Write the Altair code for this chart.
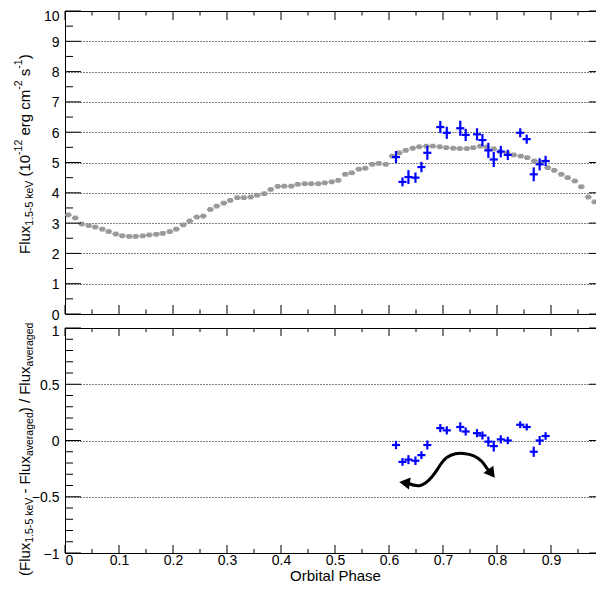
import altair as alt
import pandas as pd

# ---------------- data ----------------
gray_phase = [0.006, 0.019, 0.031, 0.044, 0.056, 0.069, 0.081, 0.094, 0.106, 0.119,
              0.131, 0.144, 0.156, 0.169, 0.181, 0.194, 0.206, 0.219, 0.231, 0.244,
              0.256, 0.269, 0.281, 0.294, 0.306, 0.319, 0.331, 0.344, 0.356, 0.369,
              0.381, 0.394, 0.406, 0.419, 0.431, 0.444, 0.456, 0.469, 0.481, 0.494,
              0.506, 0.519, 0.531, 0.544, 0.556, 0.569, 0.581, 0.594, 0.606, 0.619,
              0.631, 0.644, 0.656, 0.669, 0.681, 0.694, 0.706, 0.719, 0.731, 0.744,
              0.756, 0.769, 0.781, 0.794, 0.806, 0.819, 0.831, 0.844, 0.856, 0.869,
              0.881, 0.894, 0.906, 0.919, 0.931, 0.944, 0.956, 0.969, 0.981, 0.994]
gray_flux = [3.27, 3.17, 2.97, 2.92, 2.87, 2.80, 2.72, 2.64, 2.58, 2.56,
             2.56, 2.58, 2.61, 2.63, 2.66, 2.72, 2.80, 2.94, 3.07, 3.20,
             3.23, 3.45, 3.56, 3.66, 3.75, 3.84, 3.84, 3.86, 3.92, 3.97,
             4.11, 4.21, 4.22, 4.22, 4.28, 4.30, 4.30, 4.30, 4.33, 4.36,
             4.41, 4.61, 4.66, 4.78, 4.81, 4.94, 4.97, 4.94, 5.21, 5.32,
             5.40, 5.47, 5.52, 5.54, 5.54, 5.52, 5.49, 5.47, 5.46, 5.46,
             5.49, 5.54, 5.51, 5.45, 5.36, 5.30, 5.25, 5.21, 5.16, 5.05,
             4.99, 4.83, 4.74, 4.61, 4.50, 4.39, 4.20, 3.86, 3.70, 3.55]
gray_halfwidth = [0.00625] * 80

blue_phase = [0.613, 0.625, 0.636, 0.649, 0.660, 0.671, 0.695, 0.707, 0.732, 0.742,
              0.763, 0.773, 0.784, 0.794, 0.807, 0.820, 0.843, 0.855, 0.868, 0.879, 0.890]
blue_phase_err = [0.0075] * 21
blue_flux = [5.18, 4.36, 4.52, 4.50, 4.85, 5.32, 6.17, 5.98, 6.13, 5.91,
             5.93, 5.74, 5.40, 5.10, 5.36, 5.25, 5.98, 5.77, 4.61, 4.94, 5.05]
blue_flux_err = [0.20, 0.15, 0.23, 0.17, 0.17, 0.23, 0.20, 0.20, 0.25, 0.20,
                 0.20, 0.20, 0.25, 0.25, 0.19, 0.17, 0.15, 0.15, 0.23, 0.20, 0.17]
blue_rel = [-0.04, -0.19, -0.17, -0.18, -0.13, -0.04, 0.11, 0.09, 0.12, 0.08,
            0.065, 0.045, -0.01, -0.05, 0.01, 0.00, 0.14, 0.12, -0.10, 0.00, 0.04]
blue_rel_err = [0.037, 0.035, 0.040, 0.038, 0.035, 0.040, 0.036, 0.036, 0.042, 0.036,
                0.036, 0.036, 0.045, 0.048, 0.036, 0.033, 0.030, 0.030, 0.045, 0.040, 0.034]

# curved double arrow annotation (phase, relative flux)
arrow_phase = [0.635, 0.658, 0.680, 0.695, 0.707, 0.723, 0.738, 0.757, 0.772, 0.781, 0.787]
arrow_rel = [-0.380, -0.400, -0.320, -0.216, -0.151, -0.118, -0.116, -0.136, -0.187, -0.246, -0.280]
head_phase = [0.632, 0.788]
head_rel = [-0.378, -0.282]
head_angle = [278, 143]

x_major = [0, 0.1, 0.2, 0.3, 0.4, 0.5, 0.6, 0.7, 0.8, 0.9, 1]
x_minor = [0.05, 0.15, 0.25, 0.35, 0.45, 0.55, 0.65, 0.75, 0.85, 0.95]
top_major = [0, 1, 2, 3, 4, 5, 6, 7, 8, 9, 10]
top_minor = [0.5, 1.5, 2.5, 3.5, 4.5, 5.5, 6.5, 7.5, 8.5, 9.5]
bot_major = [-1, -0.5, 0, 0.5, 1]
bot_minor = [-0.9, -0.8, -0.7, -0.6, -0.4, -0.3, -0.2, -0.1,
             0.1, 0.2, 0.3, 0.4, 0.6, 0.7, 0.8, 0.9]

# ---------------- styling ----------------
FONT = "Liberation Sans"
GRAY = "#999999"
BLUE = "#0000ff"
W, H1, H2 = 540, 303, 225

HELV = {'F': 611, 'l': 222, 'u': 556, 'x': 500, '1': 556, '.': 278, '5': 556,
        '-': 333, ' ': 278, 'k': 500, 'e': 556, 'V': 667, 'v': 500, '(': 333,
        ')': 333, '0': 556, '2': 556, 'r': 333, 'g': 556, 'c': 500, 'm': 833,
        's': 500, 'a': 556, 'd': 556, '/': 278}


def title_layers(segments, start_y, base_x):
    layers = []
    cur = start_y
    for txt, fs, shift in segments:
        t = txt
        while t.startswith(' '):
            cur -= HELV[' '] * fs / 1000
            t = t[1:]
        layers.append(
            alt.Chart(pd.DataFrame({'t': [t]})).mark_text(
                angle=270, align='left', baseline='alphabetic', font=FONT,
                fontSize=fs, color='black'
            ).encode(x=alt.value(base_x + shift), y=alt.value(cur), text='t:N')
        )
        cur -= sum(HELV.get(c, 556) for c in t) * fs / 1000
    return layers


xs = alt.Scale(domain=[0, 1], nice=False, zero=False)
ys_top = alt.Scale(domain=[0, 10], nice=False, zero=False)
ys_bot = alt.Scale(domain=[-1, 1], nice=False, zero=False)

x_axis_top = alt.Axis(title=None, labels=False, ticks=False, domain=False, grid=False)
x_axis_bot = alt.Axis(title="Orbital Phase", values=x_major, format="~r", ticks=False,
                      tickSize=0, domain=False, grid=False, labelPadding=0,
                      titleFontSize=15, titleFont=FONT, titleFontWeight="normal",
                      titleBaseline="alphabetic", titleY=27, titleColor="black")
y_axis_top = alt.Axis(title=None, values=top_major, format="d", ticks=False, tickSize=0,
                      domain=False, grid=True, gridDash=[1, 2], gridColor="black",
                      gridOpacity=1, gridWidth=1, labelPadding=6,
                      labelOffset={"condition": {"test": "datum.value === 10", "value": 5},
                                   "value": 1})
y_axis_bot = alt.Axis(title=None, values=bot_major, format="~r", ticks=False, tickSize=0,
                      domain=False, grid=True, gridDash=[1, 2], gridColor="black",
                      gridOpacity=1, gridWidth=1, labelPadding=6,
                      labelOffset={"condition": {"test": "datum.value === 1", "value": 3},
                                   "value": 1})

gray_df = pd.DataFrame({'phase': gray_phase, 'flux': gray_flux, 'hw': gray_halfwidth})
gray_df['lo'] = gray_df['phase'] - gray_df['hw']
gray_df['hi'] = gray_df['phase'] + gray_df['hw']

blue_df = pd.DataFrame({'phase': blue_phase, 'pe': blue_phase_err, 'flux': blue_flux,
                        'fe': blue_flux_err, 'rel': blue_rel, 're': blue_rel_err})
blue_df['xlo'] = blue_df['phase'] - blue_df['pe']
blue_df['xhi'] = blue_df['phase'] + blue_df['pe']
blue_df['flo'] = blue_df['flux'] - blue_df['fe']
blue_df['fhi'] = blue_df['flux'] + blue_df['fe']
blue_df['rlo'] = blue_df['rel'] - blue_df['re']
blue_df['rhi'] = blue_df['rel'] + blue_df['re']


def tick_layers(xax, yax, ys, ymaj, ymin, h, ylen_maj, ylen_min, xlen_maj, xlen_min):
    out = []
    for vals, ln in ((ymaj, ylen_maj), (ymin, ylen_min)):
        d = pd.DataFrame({'v': vals})
        out.append(alt.Chart(d).mark_rule(color='black', strokeWidth=1).encode(
            y=alt.Y('v:Q', scale=ys, axis=yax), x=alt.value(0), x2=alt.value(ln)))
        out.append(alt.Chart(d).mark_rule(color='black', strokeWidth=1).encode(
            y=alt.Y('v:Q', scale=ys, axis=yax), x=alt.value(W), x2=alt.value(W - ln)))
    for vals, ln in ((x_major, xlen_maj), (x_minor, xlen_min)):
        d = pd.DataFrame({'v': vals})
        out.append(alt.Chart(d).mark_rule(color='black', strokeWidth=1).encode(
            x=alt.X('v:Q', scale=xs, axis=xax), y=alt.value(h), y2=alt.value(h - ln)))
        out.append(alt.Chart(d).mark_rule(color='black', strokeWidth=1).encode(
            x=alt.X('v:Q', scale=xs, axis=xax), y=alt.value(0), y2=alt.value(ln)))
    return out


# ---------------- top panel ----------------
top_layers = [
    alt.Chart(gray_df).mark_rule(color=GRAY, strokeWidth=2).encode(
        x=alt.X('lo:Q', scale=xs, axis=x_axis_top), x2='hi:Q',
        y=alt.Y('flux:Q', scale=ys_top, axis=y_axis_top)),
    alt.Chart(gray_df).mark_square(color=GRAY, size=22, opacity=1).encode(
        x=alt.X('phase:Q', scale=xs, axis=x_axis_top),
        y=alt.Y('flux:Q', scale=ys_top, axis=y_axis_top)),
    alt.Chart(blue_df).mark_rule(color=BLUE, strokeWidth=2.2).encode(
        x=alt.X('xlo:Q', scale=xs, axis=x_axis_top), x2='xhi:Q',
        y=alt.Y('flux:Q', scale=ys_top, axis=y_axis_top)),
    alt.Chart(blue_df).mark_rule(color=BLUE, strokeWidth=2.2).encode(
        x=alt.X('phase:Q', scale=xs, axis=x_axis_top),
        y=alt.Y('flo:Q', scale=ys_top, axis=y_axis_top), y2='fhi:Q'),
] + tick_layers(x_axis_top, y_axis_top, ys_top, top_major, top_minor, H1, 16, 8, 9, 4.5)

top_title = [("Flux", 15, 0), ("1.5-5 keV", 10.5, 3), (" (10", 15, 0), ("-12", 10.5, -8),
             (" erg cm", 15, 0), ("-2", 10.5, -8), (" s", 15, 0), ("-1", 10.5, -8), (")", 15, 0)]
top_layers += title_layers(top_title, 243, -35)

top = alt.layer(*top_layers).properties(width=W, height=H1)

# ---------------- bottom panel ----------------
arrow_df = pd.DataFrame({'phase': arrow_phase, 'rel': arrow_rel})
head_df = pd.DataFrame({'phase': head_phase, 'rel': head_rel, 'ang': head_angle})

bot_layers = [
    alt.Chart(blue_df).mark_rule(color=BLUE, strokeWidth=2.2).encode(
        x=alt.X('xlo:Q', scale=xs, axis=x_axis_bot), x2='xhi:Q',
        y=alt.Y('rel:Q', scale=ys_bot, axis=y_axis_bot)),
    alt.Chart(blue_df).mark_rule(color=BLUE, strokeWidth=2.2).encode(
        x=alt.X('phase:Q', scale=xs, axis=x_axis_bot),
        y=alt.Y('rlo:Q', scale=ys_bot, axis=y_axis_bot), y2='rhi:Q'),
    alt.Chart(arrow_df).mark_line(color='black', strokeWidth=3, interpolate='natural').encode(
        x=alt.X('phase:Q', scale=xs, axis=x_axis_bot),
        y=alt.Y('rel:Q', scale=ys_bot, axis=y_axis_bot)),
    alt.Chart(head_df).mark_point(shape='triangle', filled=True, size=150, color='black',
                                  opacity=1).encode(
        x=alt.X('phase:Q', scale=xs, axis=x_axis_bot),
        y=alt.Y('rel:Q', scale=ys_bot, axis=y_axis_bot),
        angle=alt.Angle('ang:Q', scale=None)),
] + tick_layers(x_axis_bot, y_axis_bot, ys_bot, bot_major, bot_minor, H2, 16, 8, 8, 4)

bot_title = [("(Flux", 15, 0), ("1.5-5 keV", 10.5, 3), (" - Flux", 15, 0), ("averaged", 10.5, 3),
             (") / Flux", 15, 0), ("averaged", 10.5, 3)]
bot_layers += title_layers(bot_title, 248, -35)

bottom = alt.layer(*bot_layers).properties(width=W, height=H2)

chart = alt.vconcat(top, bottom, spacing=14, bounds='flush').properties(
    padding={"left": 5, "top": 0, "right": -11, "bottom": 0}
).configure(background="white").configure_view(
    stroke="black", strokeWidth=1
).configure_axis(
    labelFont=FONT, labelFontSize=14, labelColor="black", titleFont=FONT
)

chart.save("out.html", embed_options={"renderer": "svg", "actions": False})
